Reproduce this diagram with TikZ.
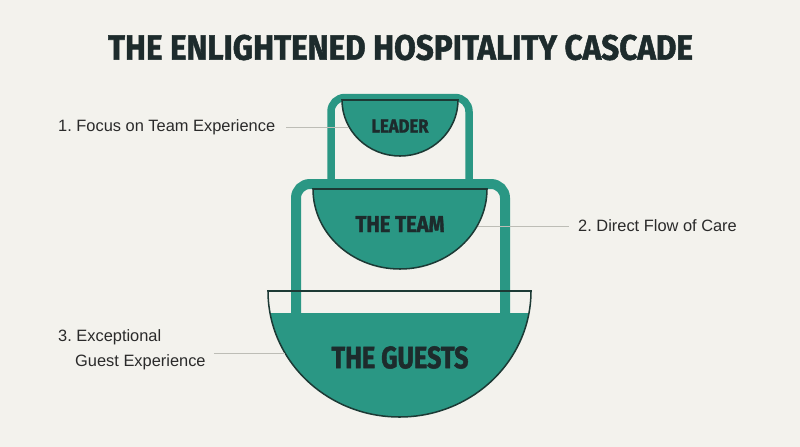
\documentclass[tikz,border=0pt]{standalone}
\usepackage{fontspec}
\setmainfont{Liberation Sans}
\newfontfamily\headfont[BoldFeatures={FakeBold=1.6}]{Fira Sans}
\usetikzlibrary{positioning}
\definecolor{paper}{HTML}{F3F2ED}
\definecolor{cascade}{HTML}{2A9784}
\definecolor{rim}{HTML}{1C3A35}
\definecolor{ink}{HTML}{1D2B2C}
\definecolor{mute}{HTML}{BDBDB6}
\definecolor{labelink}{HTML}{2A2A2A}
\newlength\pxu
\setlength\pxu{0.03cm}
\newcommand{\fitcaps}[3]{\resizebox{#1\pxu}{#2\pxu}{\headfont\bfseries #3}}
\frenchspacing
\tikzset{
  frame/.style    = {draw=cascade, line width=#1, rounded corners=0.42cm},
  bowl/.style     = {fill=cascade, draw=rim, line width=1.3pt},
  bowltext/.style = {inner sep=0pt, text=ink},
  callout/.style  = {inner sep=0pt, text=labelink, font=\fontsize{14}{21.3}\selectfont},
  guide/.style    = {draw=mute, line width=0.8pt},
}

\begin{document}
\begin{tikzpicture}[x=0.03cm, y=-0.03cm]
  \fill[paper] (0,0) rectangle (800,447);
  \useasboundingbox (0,0) rectangle (800,447);

  % Title
  \node[inner sep=0pt, text=ink] (title) at (400.5,47.5) {\fitcaps{585}{25}{THE ENLIGHTENED HOSPITALITY CASCADE}};

  % Guests bowl, filled part
  \begin{scope}
    \clip (268,291) -- (531,291) arc[start angle=0, end angle=180, x radius=131.5, y radius=126] -- cycle;
    \fill[cascade] (260,313) rectangle (540,430);
  \end{scope}

  % Frames
  \draw[frame=0.225cm] (331,184) -- (331,97.5) -- (469,97.5) -- (469,184);
  \draw[frame=0.3cm] (296,313) -- (296,184) -- (505,184) -- (505,313);

  % Bowls
  \draw[draw=rim, line width=1.3pt] (268,291) -- (531,291) arc[start angle=0, end angle=180, x radius=131.5, y radius=126] -- cycle;
  \draw[bowl] (313,189) -- (487,189) arc[start angle=0, end angle=180, x radius=87, y radius=80] -- cycle;
  \draw[bowl] (342,100) -- (458,100) arc[start angle=0, end angle=180, x radius=58, y radius=56] -- cycle;

  \node[bowltext] (leader) at (400,126) {\fitcaps{57}{13}{LEADER}};
  \node[bowltext] (team) at (400,224) {\fitcaps{89}{16}{THE TEAM}};
  \node[bowltext] (guests) at (400,357.5) {\fitcaps{137}{22}{THE GUESTS}};

  % Callouts
  \node[callout, anchor=west] (focus) at (58,127) {1. Focus on Team Experience};
  \coordinate (focusend) at (348,127);
  \draw[guide] ([xshift=0.33cm]focus.east) -- (focusend);

  \node[callout, anchor=west] (flow) at (578,226) {2. Direct Flow of Care};
  \coordinate (flowend) at (478,226);
  \draw[guide] (flowend) -- ([xshift=-0.27cm]flow.west);

  \node[callout, anchor=west, align=left] (wow) at (58,349.5) {3. Exceptional\\\hspace*{0.51cm}Guest Experience};
  \coordinate (wowend) at (285,353);
  \draw[guide] ([xshift=0.24cm]wow.east |- wowend) -- (wowend);

\end{tikzpicture}
\end{document}
